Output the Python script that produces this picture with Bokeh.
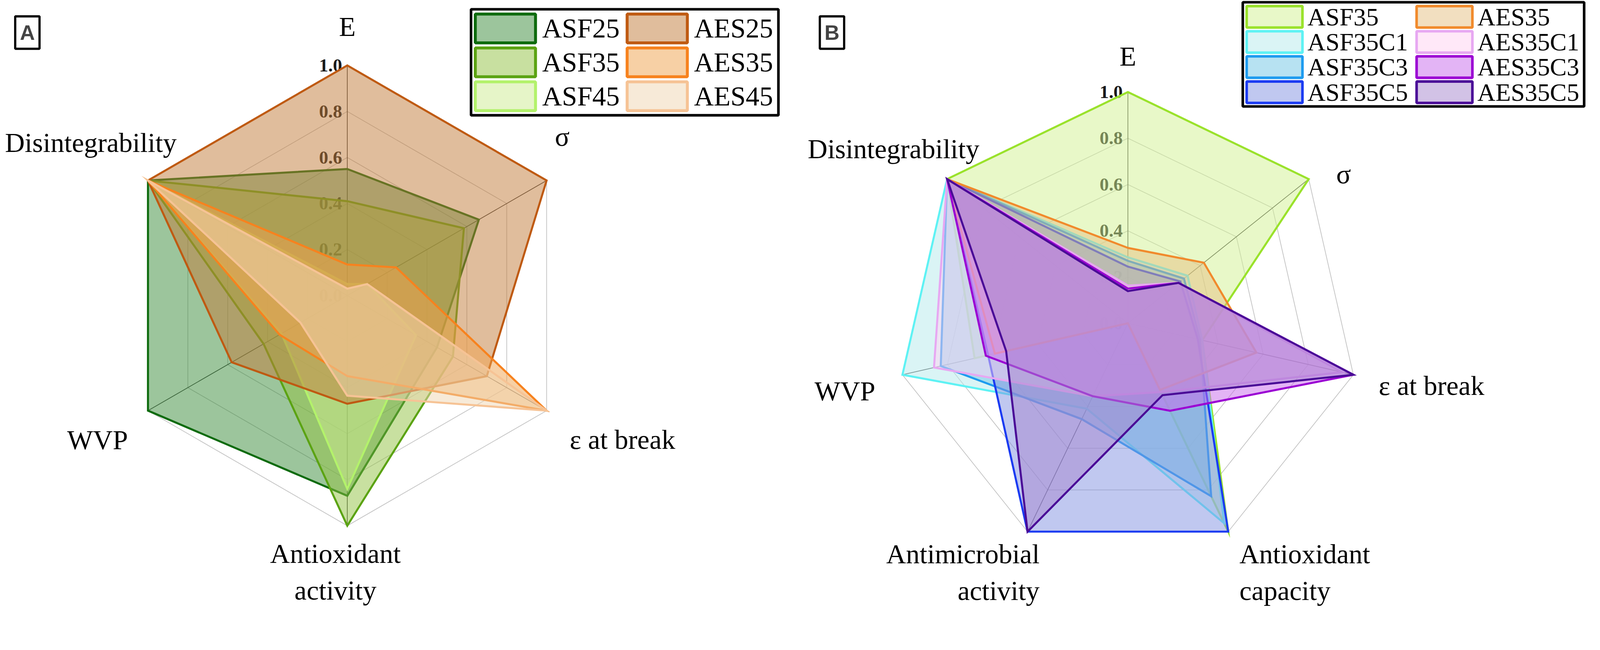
import numpy as np
from bokeh.plotting import figure
from bokeh.models import Range1d, Label
from bokeh.embed import file_html
from bokeh.resources import INLINE
from bokeh.core.properties import value

# ---------------- data ----------------
ticks = [0.0, 0.2, 0.4, 0.6, 0.8, 1.0]
tick_labels = ["0.0", "0.2", "0.4", "0.6", "0.8", "1.0"]

# Panel A
axes_a = ["E", "σ", "ε at break", "Antioxidant\nactivity", "WVP", "Disintegrability"]
series_a = ["ASF25", "ASF35", "ASF45", "AES25", "AES35", "AES45"]
asf25 = [0.55, 0.66, 0.45, 0.87, 1.00, 1.00]
asf35 = [0.41, 0.585, 0.53, 1.00, 0.42, 1.00]
asf45 = [0.05, 0.10, 0.345, 0.84, 0.33, 1.00]
aes25 = [1.00, 1.00, 0.70, 0.47, 0.58, 1.00]
aes35 = [0.135, 0.245, 1.00, 0.35, 0.34, 1.00]
aes45 = [0.03, 0.10, 1.00, 0.435, 0.235, 1.00]

# Panel B
axes_b = ["E", "σ", "ε at break", "Antioxidant\ncapacity", "Antimicrobial\nactivity", "WVP", "Disintegrability"]
series_b = ["ASF35", "ASF35C1", "ASF35C3", "ASF35C5", "AES35", "AES35C1", "AES35C3", "AES35C5"]
b_asf35 = [1.00, 1.00, 0.33, 1.00, 0.00, 0.68, 1.00]
b_asf35c1 = [0.285, 0.33, 0.33, 0.96, 0.41, 1.00, 1.00]
b_asf35c3 = [0.27, 0.31, 0.32, 0.83, 0.46, 0.83, 1.00]
b_asf35c5 = [0.245, 0.29, 0.31, 1.00, 1.00, 0.62, 1.00]
b_aes35 = [0.326, 0.42, 0.57, 0.32, 0.00, 0.59, 1.00]
b_aes35c1 = [0.163, 0.28, 0.95, 0.33, 0.35, 0.86, 1.00]
b_aes35c3 = [0.15, 0.28, 1.00, 0.42, 0.35, 0.63, 1.00]
b_aes35c5 = [0.139, 0.28, 1.00, 0.345, 1.00, 0.54, 1.00]

# ---------------- styles ----------------
lines_a = ["#0E6B0E", "#5BA313", "#B3F26B", "#BF5A12", "#F7821E", "#F6C395"]
fills_a = ["#398B39", "#91C141", "#CDEB91", "#C17B39", "#EFA14B", "#EFD5B1"]
lines_b = ["#9AE22B", "#5EF2F4", "#1D9BEF", "#1B3BF2", "#F18A2C", "#E7A8F2", "#9B02D3", "#4A0B97"]
fills_b = ["#D1F191", "#B5E9EB", "#6FC5E5", "#8191E1", "#E5BF81", "#FFD1F1", "#C769EB", "#A585CD"]

SERIF = value("Liberation Serif")
# layout is expressed in reference-image pixels; K converts them to CSS px
K = 4331 / 4096
W, H = 4080, 1557


def px(v):
    return f"{v / K:.1f}px"


p = figure(width=W, height=H, x_range=Range1d(8 * K, (8 + W) * K),
           y_range=Range1d((8 + H) * K, 8 * K),
           output_backend="svg", toolbar_location=None, min_border=0,
           x_axis_type=None, y_axis_type=None)
p.grid.visible = False
p.outline_line_color = None
p.background_fill_color = "white"


def draw_panel(labels, data, names, lcols, fcols, cx, cy, r, label_layout):
    n = len(labels)
    ang = np.pi / 2 - 2 * np.pi * np.arange(n) / n
    ux, uy = np.cos(ang), -np.sin(ang)
    uxc, uyc = np.append(ux, ux[0]), np.append(uy, uy[0])
    p.multi_line([list(cx + r * t * uxc) for t in ticks[1:]],
                 [list(cy + r * t * uyc) for t in ticks[1:]],
                 line_color="#c4c4c4", line_width=2 / K)
    p.multi_line([[cx, cx + r * u] for u in ux], [[cy, cy + r * v] for v in uy],
                 line_color="#404040", line_width=2 / K)
    p.text(x=[cx - 14] * len(ticks), y=[cy - r * t for t in ticks], text=tick_labels,
           text_align="right", text_baseline="middle", text_font=SERIF,
           text_font_style="bold", text_font_size=px(50), text_color="#1a1a1a")
    for name, vals, lc, fc in zip(names, data, lcols, fcols):
        v = np.array(vals)
        p.patch(cx + r * v * ux, cy + r * v * uy, fill_color=fc, fill_alpha=0.5,
                line_color=lc, line_width=5.5 / K, line_join="miter")
    for lab, (lx, ly, al) in zip(labels, label_layout):
        p.text(x=[lx], y=[ly], text=[lab], text_align=al, text_baseline="middle",
               text_font=SERIF, text_font_size=px(74), text_color="black",
               text_line_height=1.22)


def draw_legend(names, lcols, fcols, box, col_x, row_y0, pitch, sw_w, sw_h, sw_lw,
                text_gap, font_px, nrows):
    x0, y0, x1, y1 = box
    p.rect(x=[(x0 + x1) / 2], y=[(y0 + y1) / 2], width=x1 - x0, height=y1 - y0,
           fill_color="white", line_color="black", line_width=7 / K)
    for i, (name, lc, fc) in enumerate(zip(names, lcols, fcols)):
        col, row = divmod(i, nrows)
        sx, sy = col_x[col], row_y0 + row * pitch
        p.rect(x=[sx], y=[sy], width=sw_w, height=sw_h, fill_color=fc, fill_alpha=0.5,
               line_color=lc, line_width=sw_lw / K)
        p.text(x=[sx + sw_w / 2 + sw_lw / 2 + text_gap], y=[sy], text=[name],
               text_align="left", text_baseline="middle", text_font=SERIF,
               text_font_size=px(font_px), text_color="black")


layout_a = [(948, 80, "center"), (1530, 377, "center"), (1550, 1198, "left"),
            (916, 1556, "center"), (272, 1199, "center"), (486, 394, "right")]
draw_panel(axes_a, [asf25, asf35, asf45, aes25, aes35, aes45], series_a, lines_a, fills_a,
           948, 808, 623, layout_a)

layout_b = [(3061, 161, "center"), (3645, 479, "center"), (3740, 1052, "left"),
            (3363, 1558, "left"), (2822, 1558, "right"), (2295, 1067, "center"),
            (2659, 411, "right")]
draw_panel(axes_b, [b_asf35, b_asf35c1, b_asf35c3, b_asf35c5, b_aes35, b_aes35c1, b_aes35c3, b_aes35c5],
           series_b, lines_b, fills_b, 3061, 883, 626, layout_b)

draw_legend(series_a, lines_a, fills_a, (1283, 33, 2115, 320), [1376, 1787], 85, 91.7,
            163, 78, 8, 14, 74, 3)
draw_legend(series_b, lines_b, fills_b, (3372, 14, 4296, 296), [3458, 3918], 53.5, 68,
            151, 58, 7, 10, 68, 4)

for txt, x in (("A", 82), ("B", 2260)):
    p.add_layout(Label(x=x, y=96, text=txt, text_align="center", text_baseline="middle",
                       text_font="Liberation Sans", text_font_style="bold", text_font_size=px(56),
                       border_line_color="black", border_line_width=6 / K, padding=round(13 / K),
                       background_fill_color="white"))

open("out.html", "w").write(file_html(p, INLINE))
